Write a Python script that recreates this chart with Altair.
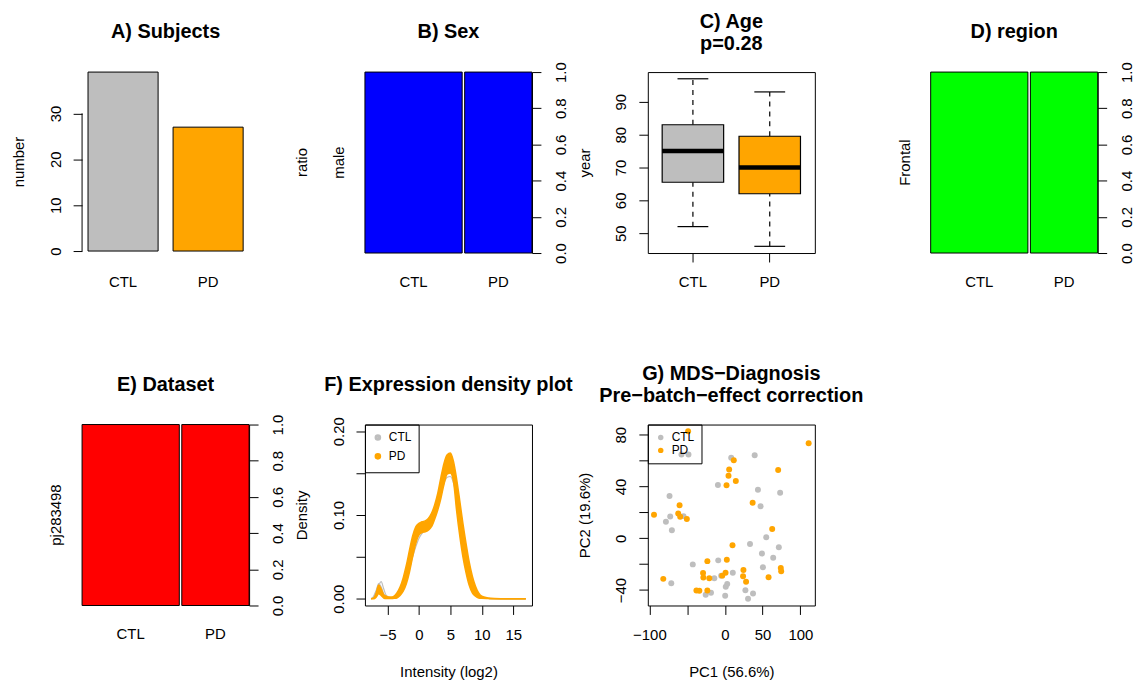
import altair as alt
import pandas as pd

FONT = "Liberation Sans"
AX = 15          # axis text size
TS = 20          # panel title size
W, H, HA = 168, 182, 180
TICK = 9

# ---------------- data ----------------
groups = ["CTL", "PD"]
group_colors = ["#BEBEBE", "#FFA500"]
subject_counts = [39, 27]

sex_level = "male"
sex_ratio = [1.0, 1.0]
region_level = "Frontal"
region_ratio = [1.0, 1.0]
dataset_level = "pj283498"
dataset_ratio = [1.0, 1.0]

age_lower = [52, 46]
age_q1 = [65.5, 62]
age_median = [75, 70]
age_q3 = [83, 79.5]
age_upper = [97, 93]

titles = {
    "A": ["A) Subjects"],
    "B": ["B) Sex"],
    "C": ["C) Age", "p=0.28"],
    "D": ["D) region"],
    "E": ["E) Dataset"],
    "F": ["F) Expression density plot"],
    "G": ["G) MDS\u2212Diagnosis", "Pre\u2212batch\u2212effect correction"],
}

density_x = [-7.6, -7.2, -6.8, -6.4, -6.0, -5.6, -5.2, -4.8, -4.4, -4.0, -3.5, -3.0,
             -2.5, -2.0, -1.5, -1.0, -0.5, 0.0, 0.5, 1.0, 1.5, 2.0, 2.5, 3.0, 3.5,
             4.0, 4.5, 5.0, 5.5, 6.0, 6.5, 7.0, 7.5, 8.0, 8.5, 9.0, 9.5, 10.0,
             11.0, 12.0, 14.0, 17.0]
density_pd_upper = [0.0, 0.001, 0.007, 0.0165, 0.012, 0.005, 0.003, 0.002, 0.002, 0.003,
                    0.007, 0.014, 0.025, 0.040, 0.058, 0.075, 0.086, 0.090, 0.092, 0.093,
                    0.096, 0.102, 0.112, 0.126, 0.145, 0.162, 0.172, 0.174, 0.164, 0.143,
                    0.117, 0.090, 0.066, 0.044, 0.027, 0.015, 0.007, 0.003, 0.001, 0.0003,
                    0.0, 0.0]
density_pd_lower = [0.0, 0.0, 0.002, 0.006, 0.004, 0.001, 0.0003, 0.0002, 0.0002, 0.0005,
                    0.001, 0.004, 0.009, 0.018, 0.032, 0.050, 0.066, 0.076, 0.079, 0.080,
                    0.082, 0.086, 0.095, 0.106, 0.120, 0.137, 0.149, 0.150, 0.140, 0.105,
                    0.075, 0.050, 0.031, 0.016, 0.007, 0.003, 0.001, 0.0005, 0.0002, 0.0,
                    0.0, 0.0]
density_ctl_a = [0.0, 0.002, 0.008, 0.016, 0.0205, 0.012, 0.004, 0.002, 0.001, 0.0015,
                 0.003, 0.007, 0.013, 0.022, 0.035, 0.050, 0.062, 0.072, 0.078, 0.082,
                 0.085, 0.090, 0.099, 0.111, 0.125, 0.138, 0.145, 0.146, 0.138, 0.120,
                 0.097, 0.072, 0.050, 0.032, 0.018, 0.009, 0.004, 0.0015, 0.0004, 0.0001,
                 0.0, 0.0]
density_ctl_b = [0.0, 0.003, 0.010, 0.018, 0.014, 0.006, 0.002, 0.001, 0.001, 0.002,
                 0.005, 0.011, 0.020, 0.032, 0.048, 0.064, 0.076, 0.083, 0.086, 0.087,
                 0.090, 0.096, 0.106, 0.119, 0.135, 0.150, 0.158, 0.156, 0.146, 0.125,
                 0.100, 0.075, 0.052, 0.033, 0.019, 0.010, 0.004, 0.002, 0.0005, 0.0001,
                 0.0, 0.0]

mds_ctl_pc1 = [-57.5, -48.2, 8.4, 39.5, -9.2, 43.8, 73.2, 47.3, -73.3, -72.4, -78.1,
               -70.2, -54.8, 33.3, 54.8, 71.5, 49.1, 64.0, 50.4, -42.5, -8.8, -14.0,
               -4.9, 10.5, 3.1, 1.2, 0.4, -25.4, -18.4, -71.0, 27.2, 37.3, 30.7]
mds_ctl_pc2 = [64.8, 64.8, 62.3, 64.1, 41.1, 37.5, 35.2, 24.7, 32.7, 16.8, 12.7,
               6.1, 17.1, -4.4, 0.7, -6.9, -11.8, -15.1, -22.5, -20.2, -17.1, -30.9,
               -28.9, -26.6, -35.3, -37.5, -44.4, -43.7, -42.2, -34.8, -40.2, -42.7, -46.8]
mds_pd_pc1 = [-48.7, 111.0, 11.8, 5.7, 4.8, 14.5, 2.2, 70.6, 36.8, -60.0, -61.8,
              -59.2, -50.4, -93.9, 62.7, 10.1, -23.2, 2.6, -28.9, -28.5, -20.6, -3.5,
              0.9, 24.6, 24.1, 28.1, 57.9, 74.1, 74.6, -81.6, -37.7, -33.8, -23.2]
mds_pd_pc2 = [82.7, 73.5, 60.3, 53.1, 48.3, 44.2, 40.9, 52.8, 27.5, 25.5, 19.1,
              16.6, 14.8, 18.1, 7.1, -5.4, -17.7, -16.7, -26.9, -30.4, -30.9, -28.9,
              -26.6, -24.6, -29.4, -33.7, -30.2, -23.0, -25.5, -31.4, -40.4, -40.6, -40.4]

# ---------------- helpers ----------------
color_scale = alt.Scale(domain=groups, range=group_colors)


def r_range(values):
    lo, hi = min(values), max(values)
    r = hi - lo
    return [lo - 0.04 * r, hi + 0.04 * r]


def title_layer(lines):
    y = -34 if len(lines) == 1 else -44.5
    df = pd.DataFrame({"t": ["\n".join(lines)]})
    return alt.Chart(df).mark_text(
        font=FONT, fontSize=TS, fontWeight="bold", align="center",
        baseline="alphabetic", lineBreak="\n", lineHeight=22, color="black"
    ).encode(text="t:N", x=alt.value(W / 2), y=alt.value(y))


def left_axis(values, title, fmt=None, label_expr=None):
    kw = dict(values=values, domain=False, tickSize=TICK, labelAngle=270,
              labelAlign="center", labelBaseline="middle", labelPadding=27 - TICK,
              titleAngle=270, titleBaseline="alphabetic", titleX=-58.5, title=title)
    if fmt:
        kw["format"] = fmt
    if label_expr:
        kw["labelExpr"] = label_expr
    return alt.Axis(**kw)


def bottom_axis(title=None, values=None, ticks=True, pad=34, label_expr=None):
    tick = TICK if ticks else 0
    kw = dict(labelAngle=0, labelBaseline="alphabetic", labelPadding=pad - tick,
              tickSize=tick, ticks=ticks, domain=False, title=title,
              titleY=71, titleBaseline="alphabetic")
    if values is not None:
        kw["values"] = values
    if label_expr:
        kw["labelExpr"] = label_expr
    return alt.Axis(**kw)


def legend(size=30, stroke=0):
    kw = dict(title=None, orient="top-left", offset=0, strokeColor="black",
              padding=7, labelFontSize=12, labelFont=FONT, labelColor="black",
              symbolType="circle", symbolSize=size, rowPadding=1, labelOffset=5)
    if stroke:
        kw["symbolStrokeWidth"] = stroke
    return alt.Legend(**kw)


# ---------------- A) Subjects ----------------
a_ticks = [0, 10, 20, 30]
dfA = pd.DataFrame({"group": groups, "count": subject_counts, "fill": group_colors})
yAs = alt.Scale(domain=[0, max(subject_counts)], nice=False)
yAaxis = left_axis(a_ticks, "number")
barsA = alt.Chart(dfA).mark_bar(stroke="black", strokeWidth=1, opacity=1).encode(
    x=alt.X("group:N", sort=groups,
            scale=alt.Scale(paddingInner=0.176, paddingOuter=0.07),
            axis=bottom_axis(ticks=False, pad=35.7)),
    y=alt.Y("count:Q", scale=yAs, axis=yAaxis),
    color=alt.Color("fill:N", scale=None),
)
axisA = alt.Chart(pd.DataFrame({"lo": [min(a_ticks)], "hi": [max(a_ticks)]})).mark_rule(
    color="black", strokeWidth=1
).encode(x=alt.value(0), y=alt.Y("lo:Q", scale=yAs, axis=yAaxis), y2="hi:Q")
panelA = alt.layer(barsA, axisA, title_layer(titles["A"])).properties(width=W, height=HA)


# ---------------- mosaic panels (B, D, E) ----------------
GAP = 1.0


def mosaic(key, level, ratios, fill, left_title=None):
    x0 = [0, subject_counts[0] + GAP]
    x1 = [subject_counts[0], subject_counts[0] + GAP + subject_counts[1]]
    df = pd.DataFrame({"group": groups, "x0": x0, "x1": x1, "ratio": ratios})
    df["xc"] = (df["x0"] + df["x1"]) / 2
    df["mid"] = df["ratio"] / 2
    xs = alt.Scale(domain=[0, sum(subject_counts) + GAP], nice=False, zero=False)
    ys = alt.Scale(domain=[0, 1], nice=False)
    yaxis = alt.Axis(orient="right", values=[0, 0.2, 0.4, 0.6, 0.8, 1.0], format=".1f",
                     tickSize=TICK, labelAngle=270, labelAlign="center",
                     labelBaseline="middle", labelPadding=28.5 - TICK, domain=True,
                     title=None)
    bars = alt.Chart(df).mark_rect(fill=fill, stroke="black", strokeWidth=1, opacity=1).encode(
        x=alt.X("x0:Q", scale=xs, axis=None), x2="x1:Q",
        y=alt.Y("ratio:Q", scale=ys, axis=yaxis),
        y2=alt.datum(0),
    )
    cats = alt.Chart(df).mark_text(font=FONT, fontSize=AX, baseline="alphabetic",
                                   align="center", color="black").encode(
        x=alt.X("xc:Q", scale=xs, axis=None), y=alt.value(H + 34), text="group:N")
    lev = alt.Chart(df.iloc[:1].assign(level=level)).mark_text(
        font=FONT, fontSize=AX, baseline="alphabetic", align="center", angle=270,
        color="black").encode(x=alt.value(-21), y=alt.Y("mid:Q", scale=ys, axis=yaxis),
                              text="level:N")
    layers = [bars, cats, lev]
    if left_title:
        lt = alt.Chart(pd.DataFrame({"t": [left_title]})).mark_text(
            font=FONT, fontSize=AX, baseline="alphabetic", align="center", angle=270,
            color="black").encode(x=alt.value(-58.5), y=alt.value(H / 2), text="t:N")
        layers.append(lt)
    layers.append(title_layer(titles[key]))
    return alt.layer(*layers).properties(width=W, height=H)


panelB = mosaic("B", sex_level, sex_ratio, "#0000FF", left_title="ratio")
panelD = mosaic("D", region_level, region_ratio, "#00FF00")
panelE = mosaic("E", dataset_level, dataset_ratio, "#FF0000")


# ---------------- C) Age ----------------
dfC = pd.DataFrame({"group": groups, "lo": age_lower, "q1": age_q1, "med": age_median,
                    "q3": age_q3, "hi": age_upper, "fill": group_colors})
xC = alt.X("group:N", sort=groups, scale=alt.Scale(paddingInner=0.2, paddingOuter=0.187),
           axis=bottom_axis(ticks=True, pad=34))
yCs = alt.Scale(domain=r_range(age_lower + age_upper), nice=False, zero=False)
yCaxis = left_axis([50, 60, 70, 80, 90], "year")
boxC = alt.Chart(dfC).mark_bar(stroke="black", strokeWidth=1.2, opacity=1).encode(
    x=xC, y=alt.Y("q1:Q", scale=yCs, axis=yCaxis),
    y2="q3:Q", color=alt.Color("fill:N", scale=None))
wlo = alt.Chart(dfC).mark_rule(color="black", strokeDash=[5, 5], strokeWidth=1.2).encode(
    x=xC, y=alt.Y("lo:Q", scale=yCs, axis=yCaxis), y2="q1:Q")
whi = alt.Chart(dfC).mark_rule(color="black", strokeDash=[5, 5], strokeWidth=1.2).encode(
    x=xC, y=alt.Y("q3:Q", scale=yCs, axis=yCaxis), y2="hi:Q")
cap_lo = alt.Chart(dfC).mark_tick(color="black", size=31, thickness=1.2, opacity=1).encode(
    x=xC, y=alt.Y("lo:Q", scale=yCs, axis=yCaxis))
cap_hi = alt.Chart(dfC).mark_tick(color="black", size=31, thickness=1.2, opacity=1).encode(
    x=xC, y=alt.Y("hi:Q", scale=yCs, axis=yCaxis))
medC = alt.Chart(dfC).mark_tick(color="black", size=62, thickness=4.5, opacity=1).encode(
    x=xC, y=alt.Y("med:Q", scale=yCs, axis=yCaxis))
panelC = alt.layer(wlo, whi, cap_lo, cap_hi, boxC, medC, title_layer(titles["C"])).properties(
    width=W, height=H, view=alt.ViewBackground(stroke="black", strokeWidth=1))


# ---------------- F) density ----------------
curves = [("ctl_b", "CTL", density_ctl_b), ("ctl_a", "CTL", density_ctl_a),
          ("pd_upper", "PD", density_pd_upper), ("pd_lower", "PD", density_pd_lower)]
rows = []
for name, grp, ys in curves:
    for xv, yv in zip(density_x, ys):
        rows.append({"x": xv, "density": yv, "curve": name, "group": grp})
dfF = pd.DataFrame(rows)
dfBand = pd.DataFrame({"x": density_x, "hi": density_pd_upper, "lo": density_pd_lower})
xFs = alt.Scale(domain=r_range(density_x), nice=False, zero=False)
yFs = alt.Scale(domain=[-0.008, 0.208], nice=False, zero=False)
xFaxis = bottom_axis("Intensity (log2)", values=[-5, 0, 5, 10, 15])
yFaxis = left_axis([0, 0.05, 0.1, 0.15, 0.2], "Density", fmt=".2f",
                   label_expr="round(datum.value*100) % 10 == 0 ? datum.label : ''")
xF = alt.X("x:Q", scale=xFs, axis=xFaxis)
yF = alt.Y("density:Q", scale=yFs, axis=yFaxis)
fleg = legend(size=10, stroke=3.5)
ctl_lines = alt.Chart(dfF).transform_filter(alt.datum.group == "CTL").mark_line(
    strokeWidth=1.2, interpolate="monotone").encode(
    x=xF, y=yF, detail="curve:N", color=alt.Color("group:N", scale=color_scale, legend=fleg))
band = alt.Chart(dfBand).mark_area(color="#FFA500", opacity=1, interpolate="monotone").encode(
    x=alt.X("x:Q", scale=xFs, axis=xFaxis), y=alt.Y("hi:Q", scale=yFs, axis=yFaxis), y2="lo:Q")
pd_lines = alt.Chart(dfF).transform_filter(alt.datum.group == "PD").mark_line(
    strokeWidth=1.5, interpolate="monotone").encode(
    x=xF, y=yF, detail="curve:N", color=alt.Color("group:N", scale=color_scale, legend=fleg))
panelF = alt.layer(ctl_lines, band, pd_lines, title_layer(titles["F"])).properties(
    width=W, height=H, view=alt.ViewBackground(stroke="black", strokeWidth=1))


# ---------------- G) MDS ----------------
dfG = pd.concat([
    pd.DataFrame({"pc1": mds_ctl_pc1, "pc2": mds_ctl_pc2, "group": "CTL"}),
    pd.DataFrame({"pc1": mds_pd_pc1, "pc2": mds_pd_pc2, "group": "PD"}),
], ignore_index=True)
pointsG = alt.Chart(dfG).mark_circle(size=36, opacity=1).encode(
    x=alt.X("pc1:Q", scale=alt.Scale(domain=r_range(mds_ctl_pc1 + mds_pd_pc1), nice=False, zero=False),
            axis=bottom_axis("PC1 (56.6%)", values=[-100, -50, 0, 50, 100],
                             label_expr="datum.value == -50 ? '' : datum.label")),
    y=alt.Y("pc2:Q", scale=alt.Scale(domain=r_range(mds_ctl_pc2 + mds_pd_pc2), nice=False, zero=False),
            axis=left_axis([-40, -20, 0, 20, 40, 60, 80], "PC2 (19.6%)",
                           label_expr="datum.value % 40 == 0 ? datum.label : ''")),
    color=alt.Color("group:N", scale=color_scale, legend=legend()),
)
panelG = alt.layer(pointsG, title_layer(titles["G"])).properties(
    width=W, height=H, view=alt.ViewBackground(stroke="black", strokeWidth=1))


# ---------------- assemble ----------------
chart = alt.concat(
    panelA, panelB, panelC, panelD, panelE, panelF, panelG,
    columns=4, spacing={"row": 172.5, "column": 116.5}, bounds="flush",
).resolve_scale(color="independent", x="independent", y="independent").properties(
    padding={"left": 3.5, "top": 1.5, "right": 0, "bottom": 0}
).configure_view(stroke=None).configure_axis(
    grid=False, labelFont=FONT, titleFont=FONT, labelFontSize=AX, titleFontSize=AX,
    titleFontWeight="normal", labelColor="black", titleColor="black", tickColor="black",
    domainColor="black", tickWidth=1, domainWidth=1, labelOverlap=False, labelFlush=False,
).configure_legend(labelFont=FONT)

chart.save("out.html", embed_options={"renderer": "svg", "actions": False})
